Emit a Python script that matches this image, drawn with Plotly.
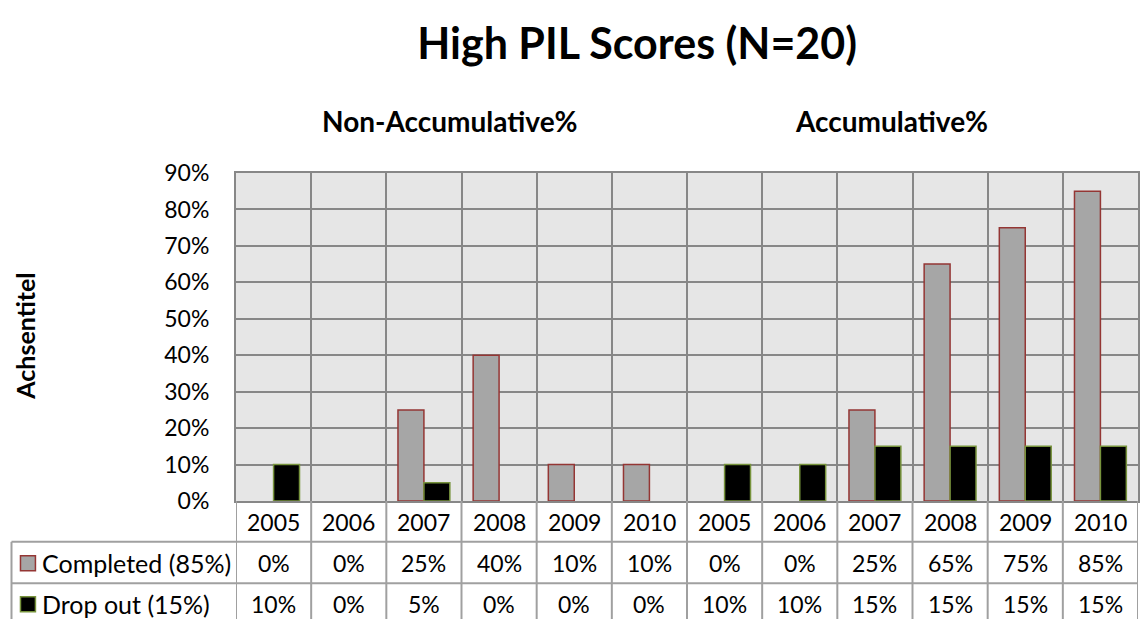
import plotly.graph_objects as go

# data
years = ["2005", "2006", "2007", "2008", "2009", "2010",
         "2005", "2006", "2007", "2008", "2009", "2010"]
groups = ["Non-Accumulative%", "Accumulative%"]
completed = [0, 0, 25, 40, 10, 10, 0, 0, 25, 65, 75, 85]
dropout = [10, 0, 5, 0, 0, 0, 10, 10, 15, 15, 15, 15]
series_names = ["Completed (85%)", "Drop out (15%)"]

# page has an 8px body margin, so the figure is drawn 8px in from the corner
O = 8
W, H = 1148 - O, 619 - O
L, R, T, B = 236, 1140, 172.7, 500.7   # plot area in screenshot pixels
FONT = "Lato"
GRID = "#878787"
TABLE = "#a0a0a0"


def px(xp):
    return (xp - L) / (R - L)


def py(yp):
    return (B - yp) / (B - T)


xs = list(range(len(years)))

fig = go.Figure()
fig.add_trace(go.Bar(
    x=xs, y=[v / 100 for v in completed], name=series_names[0],
    marker=dict(color="#a6a6a6",
                line=dict(color="#943634", width=[1.5 if v else 0 for v in completed])),
))
fig.add_trace(go.Bar(
    x=xs, y=[v / 100 for v in dropout], name=series_names[1],
    marker=dict(color="#000000",
                line=dict(color="#77933c", width=[1.5 if v else 0 for v in dropout])),
))

fig.update_layout(
    width=W, height=H,
    margin=dict(l=L - O, r=1148 - R, t=T - O, b=619 - B),
    paper_bgcolor="white", plot_bgcolor="#e6e6e6",
    barmode="group", bargap=0.31, bargroupgap=0,
    showlegend=False,
    font=dict(family=FONT, color="black"),
    title=dict(text="<b>High PIL Scores (N=20)</b>", x=px(638), xref="paper",
               xanchor="center", y=1 - (44 - O) / H, yanchor="middle",
               font=dict(size=43, family=FONT)),
)

fig.update_xaxes(
    range=[-0.5, len(years) - 0.5],
    tickvals=[i - 0.5 for i in range(len(years) + 1)],
    showticklabels=False, ticks="",
    showgrid=True, gridcolor=GRID, gridwidth=2,
    showline=True, linecolor=GRID, linewidth=2, mirror=True, zeroline=False,
)
fig.update_yaxes(
    range=[0, 0.9], dtick=0.1, tickformat=".0%",
    tickfont=dict(size=23), ticks="", ticklabelstandoff=20,
    showgrid=True, gridcolor=GRID, gridwidth=2,
    showline=True, linecolor=GRID, linewidth=2, mirror=True, zeroline=False,
)

# group headers and axis title
group_centers = [450, 893]
for g, cx in zip(groups, group_centers):
    fig.add_annotation(text="<b>" + g + "</b>", xref="paper", yref="paper",
                       x=px(cx), y=py(121), xanchor="center", yanchor="middle",
                       showarrow=False, font=dict(size=28))
fig.add_annotation(text="<b>Achsentitel</b>", xref="paper", yref="paper",
                   x=px(25), y=py(336), xanchor="center", yanchor="middle",
                   textangle=-90, showarrow=False, font=dict(size=25))

# data table below the plot
row_lines = [541.5, 583]
row_centers = [521.5, 563, 604]
shapes = []
for yl in row_lines:
    shapes.append(dict(type="line", xref="paper", yref="paper",
                       x0=px(11), x1=1, y0=py(yl), y1=py(yl),
                       line=dict(color=TABLE, width=2)))
shapes.append(dict(type="line", xref="paper", yref="paper",
                   x0=px(11), x1=px(11), y0=py(row_lines[0]), y1=py(625),
                   line=dict(color=TABLE, width=2)))
for i in range(len(years) + 1):
    shapes.append(dict(type="line", xref="x", yref="paper",
                       x0=i - 0.5, x1=i - 0.5, y0=0, y1=py(625),
                       line=dict(color=TABLE, width=2)))

for i, yr in enumerate(years):
    for txt, yc in zip([yr, f"{completed[i]}%", f"{dropout[i]}%"], row_centers):
        fig.add_annotation(text=txt, x=i, xref="x", yref="paper", y=py(yc),
                           xanchor="center", yanchor="middle",
                           showarrow=False, font=dict(size=23))

# legend keys inside the table
keys = [("#a6a6a6", "#943634"), ("#000000", "#77933c")]
for (fill, edge), name, yc in zip(keys, series_names, row_centers[1:]):
    shapes.append(dict(type="rect", xref="paper", yref="paper",
                       x0=px(20), x1=px(35), y0=py(yc - 7.5), y1=py(yc + 7.5),
                       fillcolor=fill, line=dict(color=edge, width=1.5)))
    fig.add_annotation(text=name, xref="paper", yref="paper", x=px(40),
                       y=py(yc), xanchor="left", yanchor="middle",
                       showarrow=False, font=dict(size=25))

fig.update_layout(shapes=shapes)

fig.write_html("out.html")
